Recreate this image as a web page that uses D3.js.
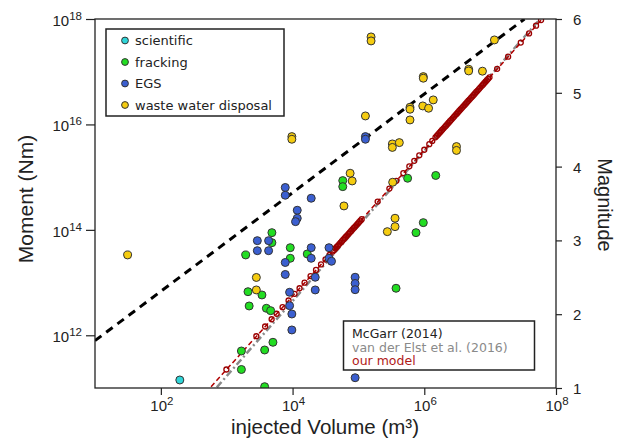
<!DOCTYPE html>
<html>
<head>
<meta charset="utf-8">
<script src="https://cdn.jsdelivr.net/npm/d3@7"></script>
<style>
html,body{margin:0;padding:0;background:#fff;}
svg{display:block;}
</style>
</head>
<body>
<svg id="chart" width="617" height="439"></svg>
<script>
// ---- data (log10 values) ----
const scientificLogV = [2.288];
const scientificLogM = [11.152];

const frackingLogV = [3.288,3.323,3.341,3.223,3.223,3.535,3.602,3.667,3.686,3.686,3.702,3.576,3.576,3.965,3.965,4.223,4.762,4.762,5.571,5.747,6.174,5.985,5.874];
const frackingLogM = [13.524,12.827,12.556,11.702,11.351,12.765,12.512,12.467,13.947,13.757,11.867,11.721,11.025,13.662,13.461,13.543,14.934,14.820,12.892,14.979,15.032,14.137,13.947];

const egsLogV = [3.889,3.889,4.283,4.071,4.071,4.045,3.465,3.636,3.465,3.636,4.283,4.283,4.553,4.553,4.591,3.889,3.889,3.955,3.955,3.989,3.989,4.344,4.344,4.950,4.950,4.950,4.950,5.106,5.106];
const egsLogM = [14.804,14.657,14.600,14.372,14.220,14.156,13.795,13.795,13.605,13.605,13.662,13.461,13.662,13.461,13.404,13.381,13.154,12.816,12.562,12.404,12.101,13.101,12.860,13.101,12.983,12.865,11.195,15.769,15.719];

const wasteLogV = [1.495,3.450,3.450,3.989,3.989,5.192,5.192,5.106,4.874,4.905,4.780,5.520,5.556,5.556,5.439,5.515,5.515,5.621,5.783,5.783,5.783,5.985,5.985,6.136,5.977,6.065,6.489,6.489,6.674,6.674,6.883,7.065];
const wasteLogM = [13.524,13.097,12.860,15.769,15.719,17.660,17.584,16.161,15.074,14.928,14.454,14.903,14.220,14.061,13.966,15.630,15.564,15.655,16.326,16.288,16.085,16.907,16.877,16.465,16.351,16.307,15.580,15.507,17.047,17.015,17.010,17.603];

// model events (our model)
const modelLogV = [2.995,3.450,3.583,3.682,3.758,3.848,3.939,4.030,4.106,4.182,4.273,4.356,4.432,4.500,4.561,
  4.61,4.63,4.65,4.67,4.69,4.71,4.73,4.75,4.77,4.79,4.81,4.83,4.85,4.87,4.89,4.91,4.93,4.95,4.97,4.99,5.01,5.03,5.05,
  5.292,5.470,5.576,5.682,5.773,5.848,5.924,6.000,6.076,6.121,
  6.17,6.19,6.21,6.23,6.25,6.27,6.29,6.31,6.33,6.35,6.37,6.39,6.41,6.43,6.45,6.47,6.49,6.51,6.53,6.55,6.57,6.59,6.61,6.63,6.65,6.67,6.69,6.71,6.73,6.75,6.77,6.79,6.81,6.83,6.85,6.87,6.89,6.91,6.93,6.95,6.97,6.99,
  7.106,7.273,7.465,7.591,7.697,7.773];
const modelLogM = [11.351,11.982,12.167,12.304,12.409,12.534,12.660,12.787,12.892,12.998,13.124,13.239,13.344,13.439,13.523,
  13.591,13.619,13.647,13.675,13.702,13.730,13.758,13.786,13.813,13.841,13.869,13.897,13.924,13.952,13.980,14.008,14.035,14.063,14.091,14.119,14.146,14.174,14.202,
  14.537,14.784,14.931,15.078,15.205,15.309,15.414,15.520,15.625,15.687,
  15.755,15.783,15.811,15.839,15.866,15.894,15.922,15.950,15.977,16.005,16.033,16.061,16.088,16.116,16.144,16.172,16.199,16.227,16.255,16.283,16.310,16.338,16.366,16.394,16.421,16.449,16.477,16.505,16.532,16.560,16.588,16.616,16.643,16.671,16.699,16.727,16.754,16.782,16.810,16.838,16.865,16.893,
  17.054,17.285,17.552,17.727,17.874,17.979];

// reference lines
const mcgarrLogV = [1.0, 7.521];
const mcgarrLogM = [11.898, 18.0];
const elstLogV = [2.70, 7.80];
const elstLogM = [10.80, 18.06];
const modelLineLogV = [2.60, 7.82];
const modelLineLogM = [10.80, 18.04];

// ticks
const xTickExps = [2,4,6,8];
const yTickExps = [12,14,16,18];
const magTicks = [1,2,3,4,5,6];

const groups = [
  {name:"scientific", color:"#2fd5d8", v:scientificLogV, m:scientificLogM},
  {name:"fracking", color:"#22dd22", v:frackingLogV, m:frackingLogM},
  {name:"EGS", color:"#3b5fd0", v:egsLogV, m:egsLogM},
  {name:"waste water disposal", color:"#f5cc10", v:wasteLogV, m:wasteLogM}
];

// ---- drawing ----
const svg = d3.select("#chart");
const L=95, R=556, T=19, B=388;
const x = d3.scaleLog().domain([1e1,1e8]).range([L,R]);
const y = d3.scaleLog().domain([1e11,1e18]).range([B,T]);
const mag = d3.scaleLinear().domain([1,6]).range([B,T]);
const p10 = e => Math.pow(10,e);

svg.append("defs").append("clipPath").attr("id","clip")
  .append("rect").attr("x",L).attr("y",T).attr("width",R-L).attr("height",B-T);

const plot = svg.append("g").attr("clip-path","url(#clip)");
const line = d3.line().x(d=>x(p10(d[0]))).y(d=>y(p10(d[1])));

// van der Elst (gray dash-dot)
plot.append("path").datum(elstLogV.map((v,i)=>[v,elstLogM[i]]))
  .attr("d",line).attr("fill","none").attr("stroke","#8a8a8a")
  .attr("stroke-width",2.5).attr("stroke-dasharray","7,3,2,3");
// our model line (red dashed)
plot.append("path").datum(modelLineLogV.map((v,i)=>[v,modelLineLogM[i]]))
  .attr("d",line).attr("fill","none").attr("stroke","#b00000")
  .attr("stroke-width",1.5).attr("stroke-dasharray","5,3");
// model events (open circles)
plot.append("g").selectAll("circle").data(modelLogV.map((v,i)=>[v,modelLogM[i]]))
  .join("circle").attr("cx",d=>x(p10(d[0]))).attr("cy",d=>y(p10(d[1])))
  .attr("r",2.5).attr("fill","none").attr("stroke","#9a0000").attr("stroke-width",1.3);
// McGarr (black dashed)
plot.append("path").datum(mcgarrLogV.map((v,i)=>[v,mcgarrLogM[i]]))
  .attr("d",line).attr("fill","none").attr("stroke","#000")
  .attr("stroke-width",3).attr("stroke-dasharray","8,6");

// scatter
groups.forEach(g=>{
  plot.append("g").selectAll("circle").data(g.v.map((v,i)=>[v,g.m[i]]))
    .join("circle").attr("cx",d=>x(p10(d[0]))).attr("cy",d=>y(p10(d[1])))
    .attr("r",4).attr("fill",g.color).attr("stroke","#333").attr("stroke-width",1);
});

// frame
svg.append("rect").attr("x",L).attr("y",T).attr("width",R-L).attr("height",B-T)
  .attr("fill","none").attr("stroke","#222").attr("stroke-width",1.3);

// axes
const tickFont = "'Liberation Sans', Arial, sans-serif";
svg.append("g").attr("transform",`translate(${L},0)`)
  .call(d3.axisLeft(y).tickValues(yTickExps.map(p10)).tickSize(9).tickFormat(""))
  .call(g=>g.select(".domain").remove())
  .selectAll("line").attr("stroke","#222").attr("stroke-width",1.2);
svg.append("g").attr("transform",`translate(0,${B})`)
  .call(d3.axisBottom(x).tickValues(xTickExps.map(p10)).tickSize(7).tickFormat(""))
  .call(g=>g.select(".domain").remove())
  .selectAll("line").attr("stroke","#222").attr("stroke-width",1.2);
svg.append("g").attr("transform",`translate(${R},0)`)
  .call(d3.axisRight(mag).tickValues(magTicks).tickSize(6).tickFormat(""))
  .call(g=>g.select(".domain").remove())
  .selectAll("line").attr("stroke","#222").attr("stroke-width",1.2);

// left tick labels
yTickExps.forEach(e=>{
  const t = svg.append("text").attr("x",82).attr("y",y(p10(e))+7)
    .attr("text-anchor","end").attr("font-family",tickFont).attr("font-size",15).attr("fill","#222");
  t.append("tspan").text("10");
  t.append("tspan").attr("dy",-6).attr("font-size",11.5).text(String(e));
});
// bottom tick labels
xTickExps.forEach(e=>{
  const t = svg.append("text").attr("x",x(p10(e))+1).attr("y",411)
    .attr("text-anchor","middle").attr("font-family",tickFont).attr("font-size",15).attr("fill","#222");
  t.append("tspan").text("10");
  t.append("tspan").attr("dy",-6).attr("font-size",11.5).text(String(e));
});
// right tick labels
magTicks.forEach(m=>{
  svg.append("text").attr("x",573).attr("y",mag(m)+6)
    .attr("font-family",tickFont).attr("font-size",15).attr("fill","#222").text(String(m));
});

// axis titles
svg.append("text").attr("transform","translate(33,199) rotate(-90)")
  .attr("text-anchor","middle").attr("font-family",tickFont).attr("font-size",21).attr("fill","#222")
  .text("Moment (Nm)");
svg.append("text").attr("transform","translate(598,205) rotate(90)")
  .attr("text-anchor","middle").attr("font-family",tickFont).attr("font-size",20).attr("fill","#222")
  .text("Magnitude");
svg.append("text").attr("x",325).attr("y",434)
  .attr("text-anchor","middle").attr("font-family",tickFont).attr("font-size",20.5).attr("fill","#222")
  .text("injected Volume (m³)");

// upper legend
const legFont = "'DejaVu Sans', sans-serif";
svg.append("rect").attr("x",106).attr("y",29).attr("width",178).attr("height",87)
  .attr("fill","#fff").attr("stroke","#222").attr("stroke-width",1.5);
const legY = [40.5,62,83.5,105];
groups.forEach((g,i)=>{
  svg.append("circle").attr("cx",125).attr("cy",legY[i]).attr("r",3.4)
    .attr("fill",g.color).attr("stroke","#333").attr("stroke-width",1);
  svg.append("text").attr("x",135).attr("y",legY[i]+4.6)
    .attr("font-family",legFont).attr("font-size",13).attr("fill","#222").text(g.name);
});

// lower legend
svg.append("rect").attr("x",343.5).attr("y",321).attr("width",191).attr("height",49)
  .attr("fill","#fff").attr("stroke","#222").attr("stroke-width",1.5);
const legendLines = [
  {t:"McGarr (2014)", c:"#222"},
  {t:"van der Elst et al. (2016)", c:"#8a8a8a"},
  {t:"our model", c:"#b01818"}
];
const legLineY = [337.5, 351.5, 365];
legendLines.forEach((d,i)=>{
  svg.append("text").attr("x",352).attr("y",legLineY[i])
    .attr("font-family",legFont).attr("font-size",12.5).attr("fill",d.c).text(d.t);
});
</script>
</body>
</html>
